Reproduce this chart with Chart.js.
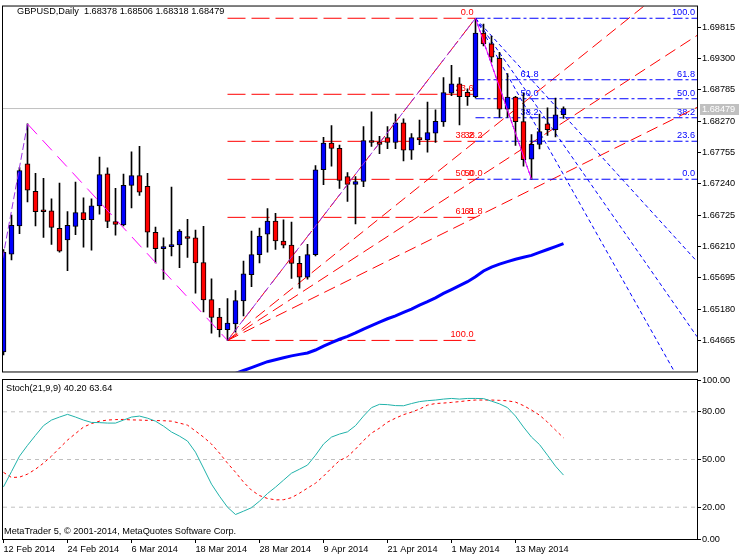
<!DOCTYPE html>
<html>
<head>
<meta charset="utf-8">
<script src="https://cdn.jsdelivr.net/npm/chart.js@4.4.1/dist/chart.umd.min.js"></script>
<style>
  body { margin: 0; background: #fff; }
  #wrap { position: relative; width: 750px; height: 560px; background: #fff; }
  #main { position: absolute; left: 0; top: 0; }
  #stoch { position: absolute; left: 0; top: 368px; }
</style>
</head>
<body>
<div id="wrap">
  <canvas id="main" width="750" height="378"></canvas>
  <canvas id="stoch" width="750" height="192"></canvas>
</div>
<script>
// --- data ---
const symbolName = 'GBPUSD,Daily';
const dateTickBars = [0, 8, 16, 24, 32, 40, 48, 56, 64];
const dateTickLabels = ['12 Feb 2014', '24 Feb 2014', '6 Mar 2014', '18 Mar 2014', '28 Mar 2014',
                        '9 Apr 2014', '21 Apr 2014', '1 May 2014', '13 May 2014'];

const openP = [1.64475, 1.66085, 1.66550, 1.67568, 1.67119, 1.66790, 1.66798, 1.66509, 1.66316, 1.66541,
               1.66766, 1.66653, 1.66878, 1.67407, 1.66621, 1.66566, 1.67215, 1.67375, 1.67199, 1.66444,
               1.66172, 1.66205, 1.66236, 1.66350, 1.66353, 1.65947, 1.65337, 1.65048, 1.64840, 1.64936,
               1.65315, 1.65748, 1.66075, 1.66412, 1.66626, 1.66300, 1.66233, 1.65931, 1.65706, 1.66075,
               1.67472, 1.67910, 1.67825, 1.67359, 1.67231, 1.67279, 1.67953, 1.67926, 1.68001, 1.67921,
               1.68242, 1.67793, 1.68001, 1.67963, 1.68075, 1.68258, 1.68733, 1.68884, 1.68744, 1.68675,
               1.69720, 1.69542, 1.69306, 1.68467, 1.68669, 1.68263, 1.67648, 1.67889, 1.68226, 1.68130,
               1.68378];
const highP = [1.66160, 1.66727, 1.67509, 1.68226, 1.67412, 1.67332, 1.66995, 1.67252, 1.66786, 1.67268,
               1.67011, 1.66995, 1.67680, 1.67504, 1.67167, 1.67401, 1.67765, 1.67857, 1.67412, 1.66530,
               1.66353, 1.67188, 1.66486, 1.66658, 1.66481, 1.66541, 1.65679, 1.65193, 1.65353, 1.65486,
               1.65968, 1.66465, 1.66514, 1.66834, 1.66754, 1.66647, 1.66610, 1.66048, 1.66246, 1.67541,
               1.68006, 1.68199, 1.67878, 1.67424, 1.67359, 1.68183, 1.68423, 1.68022, 1.68183, 1.68387,
               1.68311, 1.68066, 1.68290, 1.68584, 1.68456, 1.68990, 1.69189, 1.68990, 1.68804, 1.69964,
               1.69868, 1.69671, 1.69403, 1.69054, 1.68680, 1.68733, 1.68050, 1.68387, 1.68492, 1.68653,
               1.68506];
const lowP = [1.64427, 1.65989, 1.66422, 1.66942, 1.66550, 1.66358, 1.66245, 1.66117, 1.65812, 1.66406,
              1.66197, 1.66149, 1.66743, 1.66518, 1.66396, 1.66550, 1.66846, 1.67048, 1.66197, 1.65941,
              1.65668, 1.66053, 1.65860, 1.66032, 1.65443, 1.65133, 1.64785, 1.64721, 1.64665, 1.64801,
              1.65069, 1.65550, 1.65941, 1.66117, 1.66160, 1.66188, 1.65684, 1.65523, 1.65674, 1.66053,
              1.67225, 1.67530, 1.67167, 1.66952, 1.66582, 1.67193, 1.67857, 1.67738, 1.67818, 1.67818,
              1.67616, 1.67642, 1.67883, 1.67761, 1.67921, 1.68183, 1.68692, 1.68210, 1.68531, 1.68653,
              1.69510, 1.69242, 1.68332, 1.68332, 1.67871, 1.67530, 1.67316, 1.67814, 1.68038, 1.68011,
              1.68318];
const closeP = [1.66112, 1.66557, 1.67460, 1.67135, 1.66782, 1.66782, 1.66525, 1.66133, 1.66557, 1.66766,
                1.66653, 1.66878, 1.67391, 1.66621, 1.66573, 1.67215, 1.67375, 1.67103, 1.66444, 1.66172,
                1.66208, 1.66241, 1.66465, 1.66342, 1.65941, 1.65331, 1.65042, 1.64840, 1.64952, 1.65321,
                1.65759, 1.66075, 1.66380, 1.66626, 1.66300, 1.66233, 1.65931, 1.65706, 1.66075, 1.67472,
                1.67910, 1.67825, 1.67295, 1.67231, 1.67279, 1.67953, 1.67921, 1.67889, 1.67921, 1.68242,
                1.67793, 1.68001, 1.67963, 1.68082, 1.68268, 1.68740, 1.68884, 1.68675, 1.68675, 1.69720,
                1.69542, 1.69322, 1.68467, 1.68669, 1.68263, 1.67637, 1.67889, 1.68102, 1.68130, 1.68375,
                1.68479];

// moving average, first value belongs to bar 27
const maFirstBar = 27;
const maValues = [1.64042, 1.64090, 1.64122, 1.64170, 1.64218, 1.64267, 1.64315, 1.64347, 1.64379, 1.64411,
                  1.64435, 1.64459, 1.64507, 1.64571, 1.64628, 1.64684, 1.64732, 1.64788, 1.64852, 1.64909,
                  1.64965, 1.65021, 1.65069, 1.65125, 1.65181, 1.65246, 1.65302, 1.65366, 1.65438, 1.65502,
                  1.65567, 1.65631, 1.65711, 1.65807, 1.65872, 1.65920, 1.65960, 1.66000, 1.66032, 1.66064,
                  1.66112, 1.66160, 1.66208, 1.66257];

const stochMain = [32.8, 42.4, 52.1, 58.9, 65.2, 71.3, 74.8, 76.7, 78.4, 76.7,
                   74.8, 73.3, 73.2, 72.9, 72.9, 74.8, 76.7, 77.3, 76.0, 74.1,
                   71.0, 67.3, 64.7, 61.6, 54.6, 44.6, 34.5, 26.9, 20.0, 15.4,
                   17.5, 19.7, 23.8, 28.6, 32.6, 37.0, 41.4, 43.9, 46.5, 52.7,
                   59.7, 64.1, 66.0, 67.4, 71.3, 77.3, 82.6, 84.7, 84.5, 83.9,
                   83.8, 85.2, 86.4, 87.0, 87.4, 88.0, 88.4, 88.0, 88.4, 88.4,
                   88.3, 86.7, 85.0, 82.6, 77.3, 70.4, 64.1, 59.4, 52.7, 45.8,
                   40.20];
const stochSignal = [41.9, 38.7, 38.9, 40.8, 43.9, 47.7, 52.1, 57.2, 62.2, 66.3,
                     70.4, 72.6, 74.1, 74.8, 75.1, 75.2, 74.9, 74.8, 74.6, 74.5,
                     74.4, 74.1, 72.9, 71.6, 67.9, 64.1, 59.7, 54.0, 47.7, 42.0,
                     35.8, 30.7, 27.3, 25.5, 24.6, 24.7, 26.0, 28.8, 32.0, 35.1,
                     39.5, 44.6, 49.3, 51.8, 56.5, 61.9, 66.6, 69.7, 73.5, 76.0,
                     78.2, 79.8, 81.7, 84.2, 85.2, 85.5, 85.9, 86.4, 87.0, 87.4,
                     87.4, 87.4, 87.2, 86.9, 86.1, 83.9, 81.1, 77.9, 73.5, 68.5,
                     63.64];
const stochLevels = [20, 50, 80];
const stochTicks = [0, 20, 50, 80, 100];

const priceTicks = [1.69815, 1.69300, 1.68785, 1.68270, 1.67755, 1.67240, 1.66725,
                    1.66210, 1.65695, 1.65180, 1.64665];

// zigzag turning points (bar, price); first one lies just left of the window
const zigzagBars = [-1, 3, 28, 59, 66];
const zigzagPrices = [1.65371, 1.68226, 1.64665, 1.69964, 1.67316];

// fibonacci objects: anchors are bars, prices come from the candles
const redFibBars = [28, 59];      // low -> high
const blueFibBars = [59, 66];     // high -> low
const fibLevels = [0, 23.6, 38.2, 50, 61.8, 100];
const redFanLevels = [38.2, 50, 61.8];
const blueFanLevels = [38.2, 50, 61.8];

// --- helpers ---
const FAMILY = "'Liberation Sans', Arial, sans-serif";
const FSIZE = 9.2;
const FONT = FSIZE + 'px ' + FAMILY;
const xMin = -0.0625, xMax = 86.6875;
const yMin = 1.64154, yMax = 1.70157;
const bars = closeP.map((_, i) => i);
const last = closeP.length - 1;

const redLo = lowP[redFibBars[0]], redHi = highP[redFibBars[1]];
const blueHi = highP[blueFibBars[0]], blueLo = lowP[blueFibBars[1]];
const redLevelPrice = l => redHi - l / 100 * (redHi - redLo);
const blueLevelPrice = l => blueLo + l / 100 * (blueHi - blueLo);

function line(points, color, dash, order, width) {
  return {
    type: 'line', data: points, borderColor: color, borderDash: dash || [],
    borderWidth: width || 1, pointRadius: 0, fill: false, tension: 0, order: order
  };
}
function ray(x0, y0, x1, y1) {
  const yEnd = y0 + (y1 - y0) * (xMax - x0) / (x1 - x0);
  return [{x: x0, y: y0}, {x: xMax, y: yEnd}];
}

const RED = '#ff0000', BLUE = '#0000ff';
const datasets = [];

// current price line
datasets.push(line([{x: xMin, y: closeP[last]}, {x: xMax, y: closeP[last]}], '#c0c0c0', [], 20));

// red retracement
fibLevels.forEach(l => {
  const p = redLevelPrice(l);
  datasets.push(line([{x: redFibBars[0], y: p}, {x: redFibBars[1], y: p}], RED, [18, 6], 12));
});
// red fan
datasets.push(line([{x: redFibBars[0], y: redLo}, {x: redFibBars[1], y: redHi}], RED, [18, 6], 12));
redFanLevels.forEach(l => {
  datasets.push(line(ray(redFibBars[0], redLo, redFibBars[1], redLevelPrice(l)), RED, [12, 6], 12));
});
// blue retracement (ray to the right)
fibLevels.forEach(l => {
  const p = blueLevelPrice(l);
  datasets.push(line([{x: blueFibBars[0], y: p}, {x: xMax, y: p}], BLUE, [9, 3, 3, 3], 11));
});
// blue fan
datasets.push(line([{x: blueFibBars[0], y: blueHi}, {x: blueFibBars[1], y: blueLo}], BLUE, [3, 3], 11));
blueFanLevels.forEach(l => {
  datasets.push(line(ray(blueFibBars[0], blueHi, blueFibBars[1], blueLevelPrice(l)), BLUE, [4, 3], 11));
});

// candles
datasets.push({
  type: 'bar', data: bars.map(i => ({x: i, y: [lowP[i], highP[i]]})),
  backgroundColor: '#000', barThickness: 1, grouped: false, order: 6
});
datasets.push({
  type: 'bar', data: bars.map(i => ({x: i, y: [openP[i], closeP[i]]})),
  backgroundColor: bars.map(i => closeP[i] >= openP[i] ? BLUE : RED),
  borderColor: '#000', borderWidth: 1, borderSkipped: false,
  barThickness: 5, minBarLength: 2, grouped: false, order: 5
});

// moving average
datasets.push(line(maValues.map((v, k) => ({x: maFirstBar + k, y: v})), BLUE, [], 2, 3));

// zigzag
const zz = line(zigzagBars.map((b, k) => ({x: b, y: zigzagPrices[k]})), '#ff00ff', [], 1);
zz.segment = {
  borderColor: c => c.p1.parsed.y > c.p0.parsed.y ? '#9a32e6' : '#ff00ff',
  borderDash: c => c.p1.parsed.y > c.p0.parsed.y ? [7, 3] : (c.p0DataIndex === 3 ? [] : [14, 8])
};
datasets.push(zz);

const whiteBg = {
  id: 'whiteBg',
  beforeDraw(chart) {
    const ctx = chart.ctx;
    ctx.save(); ctx.fillStyle = '#fff';
    ctx.fillRect(0, 0, chart.width, chart.height); ctx.restore();
  }
};
const frame = {
  id: 'frame',
  afterDraw(chart) {
    const {ctx, chartArea: a} = chart;
    ctx.save(); ctx.strokeStyle = '#000'; ctx.lineWidth = 1;
    ctx.strokeRect(a.left - 0.5, a.top - 0.5, a.right - a.left + 1, a.bottom - a.top + 1);
    ctx.restore();
  }
};

const fibText = {
  id: 'fibText',
  beforeDatasetsDraw(chart) {
    const {ctx, scales: {x, y}, chartArea: a} = chart;
    ctx.save();
    ctx.beginPath(); ctx.rect(a.left, a.top, a.right - a.left, a.bottom - a.top); ctx.clip();
    ctx.font = FONT; ctx.textAlign = 'right'; ctx.textBaseline = 'bottom';
    ctx.fillStyle = RED;
    const rx = x.getPixelForValue(redFibBars[1]);
    fibLevels.forEach(l => ctx.fillText(l.toFixed(1), rx - 2, y.getPixelForValue(redLevelPrice(l)) - 1));
    redFanLevels.forEach(l => ctx.fillText(l.toFixed(1), rx + 7, y.getPixelForValue(redLevelPrice(l)) - 1));
    ctx.fillStyle = BLUE;
    fibLevels.forEach(l => ctx.fillText(l.toFixed(1), a.right - 2, y.getPixelForValue(blueLevelPrice(l)) - 1));
    const bx = x.getPixelForValue(blueFibBars[1]);
    blueFanLevels.forEach(l => ctx.fillText(l.toFixed(1), bx + 7, y.getPixelForValue(blueLevelPrice(l)) - 1));
    ctx.restore();
  },
  afterDraw(chart) {
    const {ctx, scales: {y}, chartArea: a} = chart;
    ctx.save();
    ctx.font = FONT; ctx.textBaseline = 'middle'; ctx.textAlign = 'left';
    ctx.fillStyle = '#000';
    ctx.fillText(symbolName + '  ' + [openP[last], highP[last], lowP[last], closeP[last]].map(v => v.toFixed(5)).join(' '), 17, 11);
    const py = Math.round(y.getPixelForValue(closeP[last]));
    ctx.fillStyle = '#c0c0c0';
    ctx.fillRect(a.right + 3, py - 5, 39, 11);
    ctx.fillStyle = '#fff';
    ctx.fillText(closeP[last].toFixed(5), a.right + 5, py + 0.5);
    ctx.restore();
  }
};

Chart.defaults.font.family = FAMILY;
Chart.defaults.font.size = FSIZE;
Chart.defaults.color = '#000';

new Chart(document.getElementById('main'), {
  type: 'bar',
  data: {datasets},
  options: {
    responsive: false, animation: false, events: [],
    layout: {padding: {left: 3, top: 3, right: 0, bottom: 1}},
    plugins: {legend: {display: false}, tooltip: {enabled: false}},
    scales: {
      x: {type: 'linear', min: xMin, max: xMax, display: false, offset: false},
      y: {
        position: 'right', min: yMin, max: yMax,
        afterFit(a) { a.width = 53; },
        afterBuildTicks(a) { a.ticks = priceTicks.map(v => ({value: v})); },
        ticks: {callback: v => v.toFixed(5), padding: 1, autoSkip: false},
        grid: {drawOnChartArea: false, tickLength: 4, color: '#000'},
        border: {color: '#000'}
      }
    }
  },
  plugins: [whiteBg, fibText, frame]
});

// --- stochastic panel ---
const stochSets = [];
stochLevels.forEach(l => stochSets.push(line([{x: xMin, y: l}, {x: xMax, y: l}], '#c0c0c0', [4, 4], 10)));
stochSets.push(line(stochSignal.map((v, i) => ({x: i, y: v})), RED, [3, 3], 2));
stochSets.push(line(stochMain.map((v, i) => ({x: i, y: v})), '#20b2aa', [], 1));

const stochText = {
  id: 'stochText',
  afterDraw(chart) {
    const ctx = chart.ctx;
    ctx.save();
    ctx.font = FONT; ctx.textBaseline = 'middle'; ctx.textAlign = 'left'; ctx.fillStyle = '#000';
    ctx.fillText('Stoch(21,9,9) ' + stochMain[last].toFixed(2) + ' ' + stochSignal[last].toFixed(2), 6, 20);
    ctx.fillText('MetaTrader 5, \u00a9 2001-2014, MetaQuotes Software Corp.', 4, 163);
    ctx.restore();
  }
};

new Chart(document.getElementById('stoch'), {
  type: 'line',
  data: {datasets: stochSets},
  options: {
    responsive: false, animation: false, events: [],
    layout: {padding: {left: 3, top: 12, right: 0, bottom: 0}},
    plugins: {legend: {display: false}, tooltip: {enabled: false}},
    scales: {
      x: {
        type: 'linear', min: xMin, max: xMax, offset: false,
        afterFit(a) { a.height = 21; },
        afterBuildTicks(a) { a.ticks = dateTickBars.map(v => ({value: v})); },
        ticks: {
          align: 'start', maxRotation: 0, autoSkip: false, padding: 1,
          callback: v => dateTickLabels[dateTickBars.indexOf(v)]
        },
        grid: {drawOnChartArea: false, tickLength: 4, color: '#000'},
        border: {color: '#000'}
      },
      y: {
        position: 'right', min: 0, max: 100,
        afterFit(a) { a.width = 53; },
        afterBuildTicks(a) { a.ticks = stochTicks.map(v => ({value: v})); },
        ticks: {callback: v => v.toFixed(2), padding: 1, autoSkip: false},
        grid: {drawOnChartArea: false, tickLength: 4, color: '#000'},
        border: {color: '#000'}
      }
    }
  },
  plugins: [stochText, frame]
});
</script>
</body>
</html>
